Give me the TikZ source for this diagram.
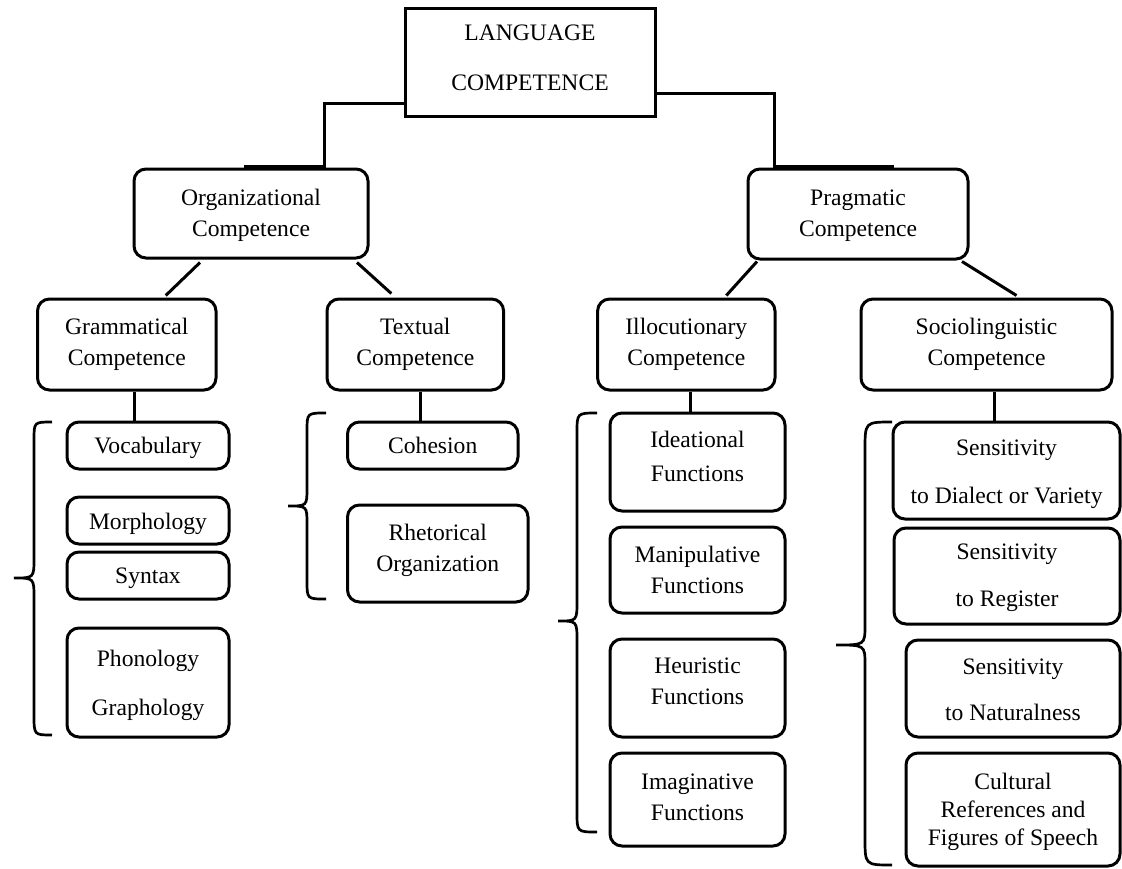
\documentclass[tikz,border=0pt]{standalone}
\usepackage{fontspec}
\setmainfont{Liberation Serif}
\usetikzlibrary{calc}
\begin{document}
\begin{tikzpicture}[x=1pt,y=-1pt,
  box/.style={draw, line width=3pt, rounded corners=12pt, inner sep=0pt},
  txt/.style={font=\fontsize{23.6}{31}\selectfont, align=center, inner sep=0pt, text=black},
  conn/.style={line width=3pt},
  brc/.style={line width=2.7pt}]
\useasboundingbox (0,0) rectangle (1122,868);
\fill[white] (0,0) rectangle (1122,868);
\clip (0,0) rectangle (1122,868);

% level 0
\node[box, rounded corners=0pt, minimum width=250pt, minimum height=108pt,
  label={[txt,yshift=4pt]center:{LANGUAGE\\[19pt]COMPETENCE}}] (lang) at (530,62) {};

% level 1
\node[box, minimum width=234pt, minimum height=89pt,
  label={[txt,yshift=-1.5pt]center:{Organizational\\Competence}}] (org) at (251,213.5) {};
\node[box, minimum width=220pt, minimum height=90pt,
  label={[txt,yshift=-1.5pt]center:{Pragmatic\\Competence}}] (prag) at (858,214) {};

% level 2
\node[box, minimum width=178.5pt, minimum height=91pt,
  label={[txt]center:{Grammatical\\Competence}}] (gram) at (126.75,344.5) {};
\node[box, minimum width=176.6pt, minimum height=91pt,
  label={[txt]center:{Textual\\Competence}}] (textual) at (415.3,344.5) {};
\node[box, minimum width=177.4pt, minimum height=91pt,
  label={[txt]center:{Illocutionary\\Competence}}] (illoc) at (686.3,344.5) {};
\node[box, minimum width=251pt, minimum height=91pt,
  label={[txt]center:{Sociolinguistic\\Competence}}] (socio) at (986.5,344.5) {};

% grammatical column
\node[box, minimum width=162pt, minimum height=47pt,
  label={[txt,yshift=-2pt]center:{Vocabulary}}] (vocab) at (148,445.5) {};
\node[box, minimum width=162pt, minimum height=47pt,
  label={[txt,yshift=-3pt]center:{Morphology}}] (morph) at (148,520.5) {};
\node[box, minimum width=162pt, minimum height=47pt,
  label={[txt,yshift=-3pt]center:{Syntax}}] (syntax) at (148,575.5) {};
\node[box, minimum width=162pt, minimum height=109pt,
  label={[txt,yshift=-2.5pt]center:{Phonology\\[18pt]Graphology}}] (phon) at (148,682.5) {};

% textual column
\node[box, minimum width=170.5pt, minimum height=47pt,
  label={[txt]center:{Cohesion}}] (cohes) at (432.75,445.5) {};
\node[box, minimum width=180.5pt, minimum height=97pt,
  label={[txt,yshift=3.5pt]center:{Rhetorical\\Organization}}] (rhet) at (437.75,553.5) {};

% illocutionary column
\node[box, minimum width=175pt, minimum height=98pt,
  label={[txt,yshift=6pt]center:{Ideational\\[3pt]Functions}}] (ideat) at (697.5,462) {};
\node[box, minimum width=175pt, minimum height=86pt,
  label={[txt]center:{Manipulative\\Functions}}] (manip) at (697.5,570) {};
\node[box, minimum width=175pt, minimum height=98pt,
  label={[txt,yshift=7pt]center:{Heuristic\\Functions}}] (heur) at (697.5,688) {};
\node[box, minimum width=175pt, minimum height=93pt,
  label={[txt,yshift=2.5pt]center:{Imaginative\\Functions}}] (imag) at (697.5,799.5) {};

% sociolinguistic column
\node[box, minimum width=227pt, minimum height=97pt,
  label={[txt,yshift=-3.5pt]center:{Sensitivity\\[17pt]to Dialect or Variety}}] (sens1) at (1006.5,470.5) {};
\node[box, minimum width=226pt, minimum height=96pt,
  label={[txt,yshift=-2pt]center:{Sensitivity\\[16pt]to Register}}] (sens2) at (1007,576) {};
\node[box, minimum width=214pt, minimum height=97pt,
  label={[txt,yshift=-1pt]center:{Sensitivity\\[15pt]to Naturalness}}] (sens3) at (1013,688.5) {};
\node[box, minimum width=214pt, minimum height=113pt,
  label={[txt,yshift=-2.5pt,font=\fontsize{23.6}{28}\selectfont]center:{Cultural\\References and\\Figures of Speech}}] (cult) at (1013,809.5) {};

% connectors from the top box
\coordinate (orgJ) at (324.5,166);
\coordinate (orgL) at (244,166);
\coordinate (pragJ) at (774.5,166);
\coordinate (pragR) at (893.5,166);
\draw[conn] ([yshift=-41pt]lang.west) -| (orgJ) -- (orgL);
\draw[conn] ([yshift=-31pt]lang.east) -| (pragJ) -- (pragR);

% diagonal connectors
\draw[conn] ([xshift=-51pt,yshift=-3pt]org.south) -- ([xshift=39pt,yshift=2pt]gram.north);
\draw[conn] ([xshift=106pt,yshift=-3pt]org.south) -- ([xshift=-24pt,yshift=4pt]textual.north);
\draw[conn] ([xshift=-101pt,yshift=-1pt]prag.south) -- ([xshift=40pt,yshift=2pt]illoc.north);
\draw[conn] ([xshift=104pt,yshift=-1pt]prag.south) -- ([xshift=30pt,yshift=2pt]socio.north);

% vertical connectors
\draw[conn] ([xshift=7.25pt]gram.south) -- ([xshift=7.25pt]gram.south |- vocab.north);
\draw[conn] ([xshift=4.7pt]textual.south) -- ([xshift=4.7pt]textual.south |- cohes.north);
\draw[conn] ([xshift=3.7pt]illoc.south) -- ([xshift=3.7pt]illoc.south |- ideat.north);
\draw[conn] ([xshift=7.5pt]socio.south) -- ([xshift=7.5pt]socio.south |- sens1.north);

% braces
\draw[brc] (52,422) .. controls (34,422) .. (34,440) -- (34,558)
  .. controls (34,578) .. (14,578) .. controls (34,578) .. (34,598)
  -- (34,715) .. controls (34,735) .. (52,735);
\draw[brc] (326,413) .. controls (307,413) .. (307,431) -- (307,488)
  .. controls (307,506) .. (288,506) .. controls (307,506) .. (307,524)
  -- (307,581) .. controls (307,599) .. (326,599);
\draw[brc] (597,413) .. controls (577,413) .. (577,433) -- (577,601)
  .. controls (577,621) .. (558,621) .. controls (577,621) .. (577,641)
  -- (577,812) .. controls (577,832) .. (597,832);
\draw[brc] (892,422) .. controls (865,422) .. (865,450) -- (865,625)
  .. controls (865,645) .. (836,645) .. controls (865,645) .. (865,665)
  -- (865,838) .. controls (865,865) .. (892,865);
\end{tikzpicture}
\end{document}
